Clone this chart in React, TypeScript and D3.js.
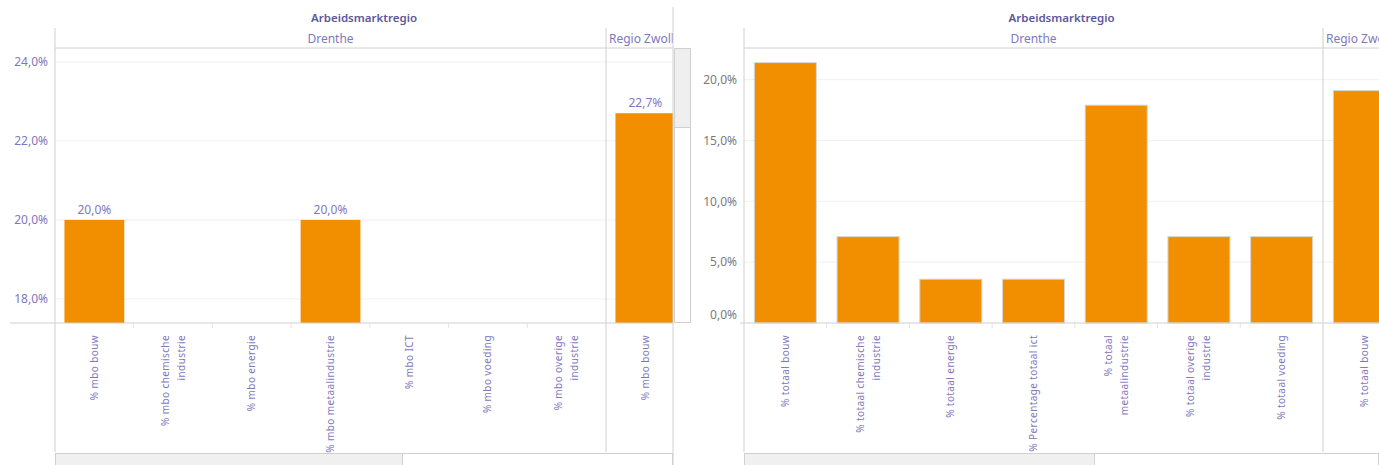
import React from 'react';
import * as d3 from 'd3';

// categories per chart
const mboCategories = [
   '% mbo bouw',
   '% mbo chemische\nindustrie',
   '% mbo energie',
   '% mbo metaalindustrie',
   '% mbo ICT',
   '% mbo voeding',
   '% mbo overige\nindustrie',
];
const totaalCategories = [
   '% totaal bouw',
   '% totaal chemische\nindustrie',
   '% totaal energie',
   '% Percentage totaal ict',
   '% totaal\nmetaalindustrie',
   '% totaal overige\nindustrie',
   '% totaal voeding',
];
const mboZwolleCategories = ['% mbo bouw'];
const totaalZwolleCategories = ['% totaal bouw'];

// values (%); null = no visible mark
const mboDrenthe = [20.0, null, null, 20.0, null, null, null];
const mboZwolle = [22.7];
const totaalDrenthe = [21.4, 7.1, 3.6, 3.6, 17.9, 7.1, 7.1];
const totaalZwolle = [19.1];

const mboTicks = [18, 20, 22, 24];
const totaalTicks = [0, 5, 10, 15, 20];

const regions = ['Drenthe', 'Regio Zwolle'];
const headerTitle = 'Arbeidsmarktregio';

const W = 1379;
const H = 465;
const ORANGE = '#f28f00';
const PURPLE = '#8078bd';
const PURPLE_DARK = '#5d5799';
const LINE = '#d0d0d0';
const GRID = '#f0f0f0';
const FONT = '"Noto Sans", sans-serif';

const fmt = (v: number) => d3.format('.1f')(v).replace('.', ',') + '%';

interface PanelProps {
   id: string;
   left: number;       // plot left
   split: number;      // boundary Drenthe | Zwolle
   right: number;      // visible right edge
   domain: [number, number];
   ticks: number[];
   tickColor: string;
   tickRight: number;
   cats: string[];
   zCats: string[];
   values: (number | null)[];
   zValues: (number | null)[];
   barRatio: number;
   showLabels: boolean;
   barStroke?: string;
   axisStart: number;
   thumbRight: number;
}

const TOP = 48;
const BOTTOM = 323;
const LABEL_BOTTOM = 452;

function Panel(p: PanelProps) {
   const y = d3.scaleLinear().domain(p.domain).range([BOTTOM, TOP]);
   const x = d3.scaleBand<string>().domain(p.cats).range([p.left, p.split]).padding(0);
   const step = x.step();
   const xz = d3.scaleBand<string>().domain(p.zCats).range([p.split, p.split + step * p.zCats.length]).padding(0);
   const bw = step * p.barRatio;

   const bars: { cx: number; v: number; key: string }[] = [];
   p.cats.forEach((c, i) => {
      const v = p.values[i];
      if (v != null && v > p.domain[0]) bars.push({ cx: x(c)! + step / 2, v, key: 'd' + i });
   });
   p.zCats.forEach((c, i) => {
      const v = p.zValues[i];
      if (v != null && v > p.domain[0]) bars.push({ cx: xz(c)! + step / 2, v, key: 'z' + i });
   });

   const allLabels = [
      ...p.cats.map(c => ({ c, cx: x(c)! + step / 2 })),
      ...p.zCats.map(c => ({ c, cx: xz(c)! + step / 2 })),
   ];
   const boundaries = d3.range(1, p.cats.length).map(i => p.left + i * step);

   return (
      <g>
         <defs>
            <clipPath id={p.id + '-clip'}>
               <rect x={p.left} y={0} width={p.right - p.left} height={H} />
            </clipPath>
         </defs>
         {/* header */}
         <text x={(p.left + p.right) / 2} y={22} textAnchor="middle" fill={PURPLE_DARK}
            fontSize={11.5} fontWeight={600} fontFamily={FONT}>{headerTitle}</text>
         <g clipPath={`url(#${p.id}-clip)`}>
            <text x={(p.left + p.split) / 2} y={43} textAnchor="middle" fill={PURPLE}
               fontSize={12} fontFamily={FONT}>{regions[0]}</text>
            <text x={p.split + 3} y={43} fill={PURPLE} fontSize={12} fontFamily={FONT}>{regions[1]}</text>

            {/* grid */}
            {p.ticks.filter(t => t > p.domain[0]).map(t => (
               <line key={t} x1={p.left} x2={p.right} y1={y(t)} y2={y(t)} stroke={GRID} strokeWidth={1} />
            ))}

            {/* bars */}
            {bars.map(b => (
               <rect key={b.key} x={b.cx - bw / 2} y={y(b.v)} width={bw} height={BOTTOM - y(b.v)}
                  fill={ORANGE} stroke={p.barStroke || 'none'} strokeWidth={p.barStroke ? 1 : 0} />
            ))}
            {p.showLabels && bars.map(b => (
               <text key={'l' + b.key} x={b.cx} y={y(b.v) - 6} textAnchor="middle" fill={PURPLE}
                  fontSize={12} fontFamily={FONT}>{fmt(b.v)}</text>
            ))}

            {/* x labels */}
            {allLabels.map(({ c, cx }, i) => {
               const lines = c.split('\n');
               return (
                  <g key={i} transform={`translate(${cx},335) rotate(-90)`}>
                     {lines.map((ln, j) => (
                        <text key={j} x={0} y={(j - (lines.length - 1) / 2) * 16} dy="0.35em" textAnchor="end"
                           fill={PURPLE} fontSize={10} letterSpacing={0.4} fontFamily={FONT}>{ln}</text>
                     ))}
                  </g>
               );
            })}
            {/* category separators */}
            {boundaries.map(bx => (
               <line key={bx} x1={bx} x2={bx} y1={BOTTOM} y2={BOTTOM + 5} stroke="#e4e4e4" />
            ))}
         </g>

         {/* y ticks */}
         {p.ticks.map(t => (
            <text key={t} x={p.tickRight} y={Math.min(y(t), BOTTOM - 8)} dy="0.35em" textAnchor="end"
               fill={p.tickColor} fontSize={12} fontFamily={FONT}>{fmt(t)}</text>
         ))}

         {/* frame lines */}
         <line x1={p.axisStart} x2={p.right} y1={BOTTOM} y2={BOTTOM} stroke={LINE} />
         <line x1={p.left} x2={p.right} y1={TOP} y2={TOP} stroke={LINE} />
         <line x1={p.left} x2={p.left} y1={28} y2={LABEL_BOTTOM} stroke={LINE} />
         <line x1={p.split} x2={p.split} y1={28} y2={LABEL_BOTTOM} stroke={LINE} />

         {/* horizontal scrollbar */}
         <rect x={p.left + 0.5} y={453.5} width={p.right - p.left - 1} height={14} fill="#fff" stroke={LINE} />
         <rect x={p.left + 0.5} y={453.5} width={p.thumbRight - p.left} height={14} fill="#f0f0f0" stroke={LINE} />
      </g>
   );
}

export default function App() {
   return (
      <svg width={W} height={H} viewBox={`0 0 ${W} ${H}`}
         style={{ position: 'absolute', left: 0, top: 0, background: '#fff' }}>
         <Panel id="mbo" left={55} split={606} right={673} domain={[17.39, 24.35]} ticks={mboTicks}
            tickColor={PURPLE} tickRight={48} cats={mboCategories} zCats={mboZwolleCategories}
            values={mboDrenthe} zValues={mboZwolle} barRatio={0.76} showLabels axisStart={10} thumbRight={402} />
         <Panel id="totaal" left={744} split={1323} right={1379} domain={[0, 22.6]} ticks={totaalTicks}
            tickColor="#7a7a7a" tickRight={737} cats={totaalCategories} zCats={totaalZwolleCategories}
            values={totaalDrenthe} zValues={totaalZwolle} barRatio={0.75} showLabels={false}
            barStroke="#d6d6d6" axisStart={740} thumbRight={1094} />

         {/* divider between the two sheets */}
         <line x1={673} x2={673} y1={7} y2={H} stroke={LINE} />
         {/* vertical scrollbar of left sheet */}
         <rect x={674.5} y={48.5} width={16} height={274} fill="#fff" stroke={LINE} />
         <rect x={674.5} y={48.5} width={16} height={79} fill="#efefef" stroke={LINE} />
      </svg>
   );
}
